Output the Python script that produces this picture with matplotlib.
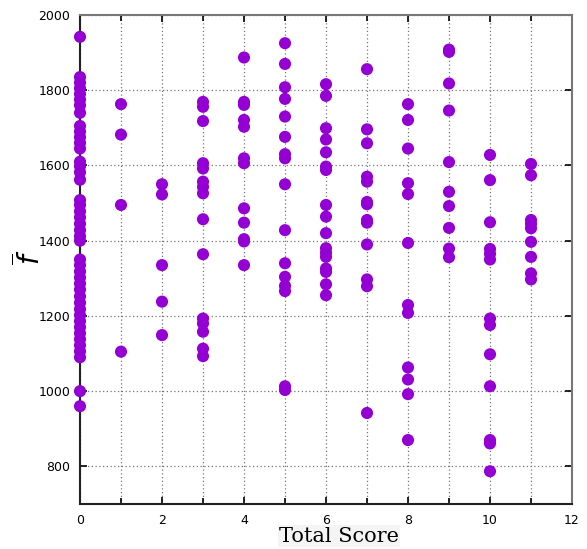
import matplotlib
matplotlib.use("Agg")
import matplotlib.pyplot as plt
from matplotlib.ticker import MultipleLocator

# Data: f-bar values grouped by total score
score0 = [1942, 1835, 1820, 1805, 1790, 1775, 1760, 1740, 1705, 1690, 1675, 1660, 1645,
          1610, 1598, 1582, 1562, 1508, 1495, 1478, 1462, 1445, 1428, 1412, 1400,
          1350, 1335, 1318, 1302, 1286, 1270, 1252, 1235, 1218, 1202, 1186, 1170,
          1154, 1138, 1122, 1106, 1090, 1000, 960]
score1 = [1763, 1682, 1495, 1105]
score2 = [1550, 1523, 1335, 1238, 1149]
score3 = [1769, 1756, 1718, 1606, 1592, 1557, 1543, 1526, 1457, 1364, 1193, 1180, 1158, 1113, 1093]
score4 = [1887, 1769, 1761, 1721, 1703, 1619, 1606, 1486, 1448, 1404, 1398, 1335]
score5 = [1925, 1870, 1808, 1777, 1730, 1676, 1630, 1619, 1550, 1428, 1340, 1304, 1280, 1266, 1013, 1003]
score6 = [1816, 1785, 1699, 1669, 1635, 1597, 1588, 1495, 1464, 1420, 1380, 1368, 1357, 1326, 1317, 1284, 1255]
score7 = [1856, 1696, 1659, 1570, 1557, 1503, 1497, 1455, 1448, 1390, 1297, 1279, 942]
score8 = [1763, 1721, 1645, 1553, 1524, 1394, 1229, 1208, 1063, 1031, 992, 870]
score9 = [1908, 1902, 1818, 1746, 1609, 1530, 1492, 1434, 1379, 1356]
score10 = [1628, 1561, 1449, 1378, 1365, 1350, 1193, 1176, 1098, 1013, 870, 861, 787]
score11 = [1604, 1574, 1455, 1445, 1433, 1397, 1357, 1313, 1297]

groups = [score0, score1, score2, score3, score4, score5, score6,
          score7, score8, score9, score10, score11]

xs, ys = [], []
for s, vals in enumerate(groups):
    xs.extend([s] * len(vals))
    ys.extend(vals)

fig = plt.figure(figsize=(5.87, 5.49), dpi=100)
ax = fig.add_axes([80 / 587, 1 - 504 / 549, 492 / 587, 489 / 549])

ax.scatter(xs, ys, s=76, color='#9400d3', edgecolors='none', zorder=3, clip_on=False)

ax.set_xlim(0, 12)
ax.set_ylim(700, 2000)
ax.xaxis.set_major_locator(MultipleLocator(2))
ax.xaxis.set_minor_locator(MultipleLocator(1))
ax.set_yticks([800, 1000, 1200, 1400, 1600, 1800, 2000])

ax.grid(True, which='both', axis='x', linestyle=(0, (1, 2)), color='#777777', linewidth=0.9)
ax.grid(True, which='major', axis='y', linestyle=(0, (1, 2)), color='#777777', linewidth=0.9)

ax.tick_params(which='both', direction='in', top=True, right=True, length=5,
               width=1.2, labelsize=9, pad=7)
ax.tick_params(which='minor', length=4)

for name, sp in ax.spines.items():
    sp.set_linewidth(1.5)
    sp.set_color('#222222' if name in ('left', 'bottom') else '#777777')

fig.text(339 / 587, 1 - 536 / 549, 'Total Score', family='DejaVu Serif', fontsize=15,
         ha='center', va='center',
         bbox=dict(facecolor='#f4f4f4', edgecolor='none', pad=1))
fig.text(30 / 587, 1 - 257 / 549, r'$\overline{f}$', fontsize=20, rotation=90,
         ha='center', va='center')

fig.savefig('out.png', dpi=100)
